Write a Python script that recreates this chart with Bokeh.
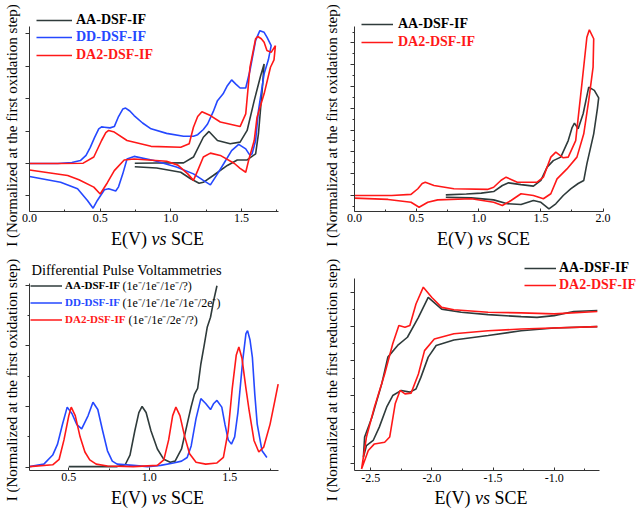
from bokeh.plotting import figure
from bokeh.layouts import gridplot
from bokeh.models import (FixedTicker, NumeralTickFormatter, Legend, LegendItem, Label, LinearAxis)
from bokeh.embed import file_html
from bokeh.resources import INLINE

# ---------------- data ----------------
# Panel 1: CV oxidation (AA, DD, DA2)
p1_aa_x = [0.745, 0.9, 1.09, 1.16, 1.23, 1.27, 1.33, 1.42, 1.49, 1.54, 1.59, 1.635, 1.66,
           1.65, 1.62, 1.6, 1.54, 1.47, 1.40, 1.30, 1.23, 1.2, 1.14, 1.07, 0.9, 0.745]
p1_aa_y = [0.01, 0.015, 0.02, 0.2, 0.81, 0.99, 0.71, 0.61, 0.66, 1.02, 1.94, 2.7, 3.07,
           2.46, 0.92, 0.3, 0.11, 0.11, -0.06, -0.37, -0.58, -0.61, -0.47, -0.27, -0.14, -0.10]

p1_dd_x = [0, 0.2, 0.30, 0.36, 0.40, 0.43, 0.46, 0.49, 0.51, 0.53, 0.57, 0.60, 0.63, 0.66, 0.68,
           0.71, 0.74, 0.80, 0.86, 0.97, 1.09, 1.16, 1.19, 1.23, 1.26, 1.30, 1.33, 1.37, 1.40, 1.43,
           1.46, 1.49, 1.53, 1.56, 1.60, 1.63, 1.66, 1.68, 1.71,
           1.69, 1.66, 1.62, 1.60, 1.575, 1.56, 1.53, 1.48, 1.43, 1.375, 1.33, 1.28, 1.23, 1.16,
           1.04, 0.88, 0.74, 0.69, 0.66, 0.63, 0.61, 0.56, 0.53, 0.48, 0.45, 0.41, 0.34, 0.22, 0]
p1_dd_y = [0, 0.0, 0.03, 0.09, 0.25, 0.5, 0.8, 1.07, 1.13, 1.12, 1.1, 1.14, 1.45, 1.68, 1.71,
           1.62, 1.48, 1.25, 1.07, 0.93, 0.84, 0.84, 0.89, 1.05, 1.22, 1.6, 1.94, 2.15, 2.4, 2.58,
           2.45, 2.33, 2.33, 2.87, 3.8, 4.1, 4.05, 3.9, 3.64,
           3.2, 2.77, 1.63, 0.71, 0.3, 0.25, 0.45, 0.59, 0.40, 0.0, -0.32, -0.66, -0.52, -0.32,
           -0.11, 0.09, 0.22, 0.14, -0.32, -0.72, -0.85, -0.78, -0.81, -1.14, -1.38, -1.14, -0.78, -0.58, -0.40]

p1_da_x = [0, 0.2, 0.38, 0.455, 0.51, 0.54, 0.56, 0.60, 0.69, 0.86, 1.07, 1.13, 1.16, 1.19, 1.22,
           1.28, 1.35, 1.49, 1.53, 1.56, 1.60, 1.615, 1.64, 1.66, 1.68, 1.71, 1.74,
           1.73, 1.705, 1.66, 1.61, 1.59, 1.55, 1.53, 1.49, 1.45, 1.35, 1.28, 1.23, 1.19, 1.16,
           1.12, 1.05, 0.97, 0.74, 0.67, 0.60, 0.55, 0.50, 0.455, 0.35, 0.27, 0]
p1_da_y = [0, 0.0, 0.01, 0.2, 0.71, 0.95, 1.02, 0.97, 0.71, 0.53, 0.5, 0.61, 1.12, 1.45, 1.6,
           1.48, 1.28, 1.14, 1.53, 2.97, 3.85, 3.92, 3.85, 3.74, 3.49, 3.43, 3.64,
           3.2, 2.97, 2.15, 1.43, 0.71, 0.09, -0.27, -0.15, 0.0, 0.25, 0.32, 0.2, -0.22, -0.52,
           -0.32, -0.05, 0.07, 0.14, 0.11, -0.22, -0.6, -0.94, -0.73, -0.5, -0.37, -0.2]

# Panel 2: CV oxidation, wider window (AA, DA2)
p2_aa_x = [0.735, 0.9, 1.02, 1.12, 1.19, 1.24, 1.34, 1.44, 1.50, 1.55, 1.60, 1.66, 1.72, 1.75,
           1.77, 1.80, 1.84, 1.885, 1.93, 1.965,
           1.955, 1.925, 1.87, 1.845, 1.80, 1.74, 1.68, 1.62, 1.565, 1.50, 1.44, 1.34, 1.23, 1.12,
           0.94, 0.735]
p2_aa_y = [0.03, 0.07, 0.11, 0.18, 0.46, 0.58, 0.5, 0.43, 0.69, 1.3, 1.6, 1.76, 2.52, 3.1,
           3.32, 3.06, 3.75, 4.97, 4.82, 4.48,
           4.0, 2.83, 1.45, 0.69, 0.55, 0.3, 0.0, -0.38, -0.61, -0.31, -0.23, -0.41, -0.38, -0.2,
           -0.11, -0.08]

p2_da_x = [0, 0.3, 0.455, 0.51, 0.545, 0.57, 0.64, 0.8, 1.07, 1.12, 1.18, 1.22, 1.31, 1.47, 1.52,
           1.58, 1.62, 1.68, 1.72, 1.78, 1.83, 1.87, 1.89, 1.925, 1.92,
           1.885, 1.845, 1.79, 1.71, 1.63, 1.58, 1.52, 1.44, 1.34, 1.26, 1.19, 1.12, 0.94, 0.67,
           0.59, 0.52, 0.455, 0.27, 0]
p2_da_y = [0, 0.0, 0.05, 0.31, 0.55, 0.61, 0.46, 0.31, 0.28, 0.38, 0.7, 0.84, 0.61, 0.61, 0.84,
           1.76, 1.99, 1.73, 1.76, 2.52, 5.12, 7.26, 7.6, 7.19, 5.89,
           4.36, 2.83, 1.76, 1.22, 0.76, 0.08, -0.15, 0.0, 0.08, -0.23, -0.46, -0.31, -0.15, -0.2,
           -0.31, -0.54, -0.31, -0.18, -0.12]

# Panel 3: differential pulse voltammetries
p3_aa_x = [0.5, 0.8, 0.85, 0.88, 0.91, 0.935, 0.955, 0.98, 1.01, 1.05, 1.09, 1.13, 1.16, 1.20,
           1.235, 1.26, 1.28, 1.30, 1.32, 1.34, 1.36, 1.38, 1.40, 1.42]
p3_aa_y = [0.01, 0.01, 0.04, 0.2, 0.6, 0.9, 1.0, 0.9, 0.6, 0.3, 0.13, 0.08, 0.1, 0.3,
           0.71, 1.0, 1.2, 1.3, 1.70, 2.0, 2.31, 2.47, 2.75, 2.99]

p3_dd_x = [0.256, 0.345, 0.40, 0.43, 0.46, 0.49, 0.52, 0.55, 0.58, 0.62, 0.65, 0.68, 0.71, 0.74,
           0.77, 0.80, 0.9, 0.99, 1.07, 1.15, 1.2, 1.235, 1.26, 1.29, 1.32, 1.35, 1.38, 1.40,
           1.42, 1.45, 1.47, 1.49, 1.51, 1.53, 1.55, 1.58, 1.60, 1.61, 1.625, 1.64, 1.655,
           1.67, 1.70, 1.73]
p3_dd_y = [0.01, 0.05, 0.2, 0.38, 0.7, 0.99, 0.88, 0.7, 0.63, 0.85, 1.07, 0.95, 0.6, 0.27,
           0.1, 0.05, 0.03, 0.01, 0.03, 0.07, 0.1, 0.16, 0.35, 0.8, 1.13, 1.05, 0.95, 1.05,
           1.1, 0.99, 0.7, 0.45, 0.38, 0.5, 0.9, 1.76, 2.2, 2.25, 2.1, 1.81, 1.2,
           0.71, 0.27, 0.16]

p3_da_x = [0.256, 0.40, 0.44, 0.47, 0.50, 0.515, 0.54, 0.57, 0.60, 0.63, 0.67, 0.74, 0.9, 1.05,
           1.09, 1.12, 1.145, 1.165, 1.19, 1.22, 1.25, 1.29, 1.35, 1.42, 1.46, 1.49, 1.515, 1.54,
           1.556, 1.575, 1.60, 1.62, 1.65, 1.68, 1.71, 1.75, 1.78, 1.80]
p3_da_y = [0.01, 0.04, 0.13, 0.45, 0.85, 0.99, 0.85, 0.5, 0.25, 0.12, 0.05, 0.02, 0.01, 0.03,
           0.12, 0.45, 0.85, 0.99, 0.85, 0.5, 0.22, 0.08, 0.05, 0.07, 0.16, 0.6, 1.3, 1.85,
           1.98, 1.8, 1.3, 0.93, 0.44, 0.25, 0.33, 0.71, 1.1, 1.37]

# Panel 4: CV reduction (AA, DA2)
p4_aa_x = [-0.647, -1.0, -1.27, -1.54, -1.82, -1.965, -2.03, -2.09, -2.13, -2.18, -2.25, -2.32,
           -2.37, -2.43, -2.48, -2.535, -2.56,
           -2.55, -2.49, -2.41, -2.36, -2.28, -2.2, -2.11, -2.03, -1.92, -1.76, -1.54, -1.27,
           -1.14, -1.0, -0.84, -0.647]
p4_aa_y = [4.0, 3.96, 3.88, 3.74, 3.61, 3.45, 3.11, 2.52, 2.18, 2.09, 2.14, 1.99,
           1.65, 1.07, 0.68, 0.53, 0.19,
           0.78, 1.36, 2.33, 3.11, 3.45, 3.69, 4.27, 4.85, 4.51, 4.42, 4.35, 4.29,
           4.27, 4.32, 4.44, 4.47]

p4_da_x = [-0.647, -1.27, -1.54, -1.82, -1.98, -2.06, -2.11, -2.17, -2.22, -2.26, -2.30, -2.345,
           -2.386, -2.47, -2.52, -2.575,
           -2.535, -2.47, -2.386, -2.32, -2.27, -2.22, -2.18, -2.13, -2.07, -2.0, -1.92, -1.82,
           -1.54, -1.27, -1.0, -0.647]
p4_da_y = [4.0, 3.93, 3.88, 3.79, 3.64, 3.3, 2.62, 2.06, 2.04, 2.14, 1.75, 0.78,
           0.63, 0.58, 0.39, -0.15,
           0.78, 1.65, 2.62, 3.5, 4.03, 3.98, 4.03, 4.66, 5.15, 4.85, 4.56, 4.49,
           4.42, 4.4, 4.37, 4.44]

# tick values
p1_xticks = [0.0, 0.5, 1.0, 1.5]
p1_xminor = [0.25, 0.75, 1.25, 1.75]
p1_yticks = [-1, 0, 1, 2, 3, 4]
p2_xticks = [0.0, 0.5, 1.0, 1.5, 2.0]
p2_xminor = [0.25, 0.75, 1.25, 1.75]
p2_yticks = [0, 1, 2, 3, 4, 5, 6, 7]
p2_yminor = [-0.5, 0.5, 1.5, 2.5, 3.5, 4.5, 5.5, 6.5, 7.5]
p3_xticks = [0.5, 1.0, 1.5]
p3_xminor = [0.75, 1.25, 1.75]
p3_yticks = [0, 1, 2, 3]
p3_yminor = [0.5, 1.5, 2.5]
p4_xticks = [-2.5, -2.0, -1.5, -1.0]
p4_xminor = [-2.25, -1.75, -1.25, -0.75]
p4_yticks = [0, 1, 2, 3, 4, 5]
p4_yminor = [0.5, 1.5, 2.5, 3.5, 4.5]

labels_ox = ["AA-DSF-IF", "DD-DSF-IF", "DA2-DSF-IF"]
dpv_title = "Differential Pulse Voltammetries"
dpv_notes = ["(1e\u207b/1e\u207b/1e\u207b/?)", "(1e\u207b/1e\u207b/1e\u207b/1e\u207b/2e\u207b)",
             "(1e\u207b/1e\u207b/2e\u207b/?)"]
ylab_ox = "I (Normalized at the first oxidation step)"
ylab_red = "I (Normalized at the first reduction step)"

# ---------------- style ----------------
FONT = "Liberation Serif"
GRAY = "#2f3b3b"
BLUE = "#2548ff"
RED = "#ff1818"
AX = "#333333"
LW = 1.6


def make_fig(w, h, left, xr, yr, xb, yb, xt, xminor, yt, yminor, ylabel, standoff):
    p = figure(width=w, height=h, x_range=xr, y_range=yr, output_backend="svg",
               toolbar_location=None, min_border_left=left, min_border_right=0,
               min_border_top=0, min_border_bottom=0)
    p.outline_line_color = None
    p.grid.visible = False
    p.background_fill_color = "white"
    p.border_fill_color = "white"
    # x axis, placed at the bottom of the drawn y axis
    xa = p.xaxis[0]
    xa.fixed_location = yb[0]
    xa.bounds = xb
    xa.ticker = FixedTicker(ticks=xt, minor_ticks=xminor)
    xa.formatter = NumeralTickFormatter(format="0.0")
    xa.major_label_text_font = FONT
    xa.major_label_text_font_size = "12px"
    xa.major_label_text_color = "black"
    xa.major_label_standoff = 3
    xa.major_tick_in = 3
    xa.major_tick_out = 0
    xa.minor_tick_in = 2
    xa.minor_tick_out = 0
    xa.axis_line_color = AX
    xa.major_tick_line_color = AX
    xa.minor_tick_line_color = AX
    # left axis: only carries the title
    ya = p.yaxis[0]
    ya.ticker = FixedTicker(ticks=[], minor_ticks=[])
    ya.axis_line_color = None
    ya.major_tick_out = 0
    ya.major_tick_in = 0
    ya.minor_tick_out = 0
    ya.major_label_standoff = 0
    ya.axis_label = ylabel
    ya.axis_label_text_font = FONT
    ya.axis_label_text_font_style = "normal"
    ya.axis_label_text_font_size = "15px"
    ya.axis_label_text_color = "black"
    ya.axis_label_standoff = standoff
    # drawn y axis line with ticks, at the start of the x axis
    yline = LinearAxis(fixed_location=xb[0], bounds=yb,
                       ticker=FixedTicker(ticks=[], minor_ticks=yt),
                       minor_tick_out=4, minor_tick_in=0, major_tick_out=0, major_tick_in=0,
                       axis_line_color=AX, minor_tick_line_color=AX)
    p.add_layout(yline, "left")
    if yminor:
        ysmall = LinearAxis(fixed_location=xb[0],
                            ticker=FixedTicker(ticks=[], minor_ticks=yminor),
                            minor_tick_out=2, minor_tick_in=0, major_tick_out=0, major_tick_in=0,
                            axis_line_color=None, minor_tick_line_color=AX)
        p.add_layout(ysmall, "left")
    return p


def add_xlabel(p, cx, cy):
    kw = dict(x_units="screen", y_units="screen", text_font=FONT, text_font_size="18px",
              text_baseline="middle", text_align="left", text_color="black")
    p.add_layout(Label(x=cx - 46.5, y=cy, text="E(V)", **kw))
    p.add_layout(Label(x=cx - 6, y=cy, text="vs", text_font_style="italic", **kw))
    p.add_layout(Label(x=cx + 13.5, y=cy, text="SCE", **kw))


def add_entry(p, r, text, color, vx, vy, size, h, gw, standoff):
    leg = Legend(items=[LegendItem(label=text, renderers=[r])], location=(vx, vy),
                 label_text_font=FONT, label_text_font_size=size, label_text_font_style="bold",
                 label_text_color=color, label_height=h, glyph_height=h, glyph_width=gw,
                 label_standoff=standoff, padding=0, margin=0, spacing=0,
                 border_line_color=None, background_fill_alpha=0)
    p.add_layout(leg)


# ---------------- panel 1 ----------------
p1 = make_fig(320, 250, 20, (-0.0637, 2.059), (-2.685, 5.031), (0, 1.76), (-1.48, 4.23),
              p1_xticks, p1_xminor, p1_yticks, [], ylab_ox, 1)
r1a = p1.line(p1_aa_x, p1_aa_y, color=GRAY, line_width=LW)
r1b = p1.line(p1_dd_x, p1_dd_y, color=BLUE, line_width=LW)
r1c = p1.line(p1_da_x, p1_da_y, color=RED, line_width=LW)
add_entry(p1, r1a, labels_ox[0], "black", 16, 222, "14px", 16, 36, 4)
add_entry(p1, r1b, labels_ox[1], BLUE, 16, 205, "14px", 16, 36, 4)
add_entry(p1, r1c, labels_ox[2], RED, 16, 187.5, "14px", 16, 36, 4)
add_xlabel(p1, 137, 12)

# ---------------- panel 2 ----------------
p2 = make_fig(320, 250, 23, (-0.0802, 2.3015), (-2.523, 8.945), (0, 2.0), (-0.73, 7.75),
              p2_xticks, p2_xminor, p2_yticks, p2_yminor, ylab_ox, 5)
r2a = p2.line(p2_aa_x, p2_aa_y, color=GRAY, line_width=LW)
r2c = p2.line(p2_da_x, p2_da_y, color=RED, line_width=LW)
add_entry(p2, r2a, labels_ox[0], "black", 17, 218, "14px", 16, 32, 5)
add_entry(p2, r2c, labels_ox[2], RED, 17, 200, "14px", 16, 32, 5)
add_xlabel(p2, 139, 12)

# ---------------- panel 3 ----------------
p3 = make_fig(320, 259, 20, (0.200, 2.063), (-0.697, 3.570), (0.256, 1.80), (-0.05, 3.03),
              p3_xticks, p3_xminor, p3_yticks, p3_yminor, ylab_ox, 1)
r3a = p3.line(p3_aa_x, p3_aa_y, color=GRAY, line_width=LW)
r3b = p3.line(p3_dd_x, p3_dd_y, color=BLUE, line_width=LW)
r3c = p3.line(p3_da_x, p3_da_y, color=RED, line_width=LW)
add_entry(p3, r3a, labels_ox[0], "black", 10, 217.5, "11px", 13, 32, 3)
add_entry(p3, r3b, labels_ox[1], BLUE, 10, 200.5, "11px", 13, 32, 3)
add_entry(p3, r3c, labels_ox[2], RED, 10, 183.5, "11px", 13, 32, 3)
for txt, xx, yy in zip(dpv_notes, [102, 102, 108], [224, 207, 190]):
    p3.add_layout(Label(x=xx, y=yy, x_units="screen", y_units="screen", text=txt,
                        text_font=FONT, text_font_size="12px", text_baseline="middle",
                        text_color="black"))
p3.add_layout(Label(x=11, y=240, x_units="screen", y_units="screen", text=dpv_title,
                    text_font=FONT, text_font_size="14.5px", text_baseline="middle",
                    text_color="black"))
add_xlabel(p3, 137, 12)

# ---------------- panel 4 ----------------
p4 = make_fig(320, 259, 23, (-2.7145, -0.294), (-1.332, 6.219), (-2.633, -0.633), (-0.2, 5.4),
              p4_xticks, p4_xminor, p4_yticks, p4_yminor, ylab_red, 5)
r4a = p4.line(p4_aa_x, p4_aa_y, color=GRAY, line_width=LW)
r4c = p4.line(p4_da_x, p4_da_y, color=RED, line_width=LW)
add_entry(p4, r4a, labels_ox[0], "black", 180, 233, "14px", 16, 32, 3)
add_entry(p4, r4c, labels_ox[2], RED, 180, 216, "14px", 16, 32, 3)
add_xlabel(p4, 136.5, 12)

grid = gridplot([[p1, p2], [p3, p4]], toolbar_location=None)
open("out.html", "w").write(file_html(grid, INLINE))
